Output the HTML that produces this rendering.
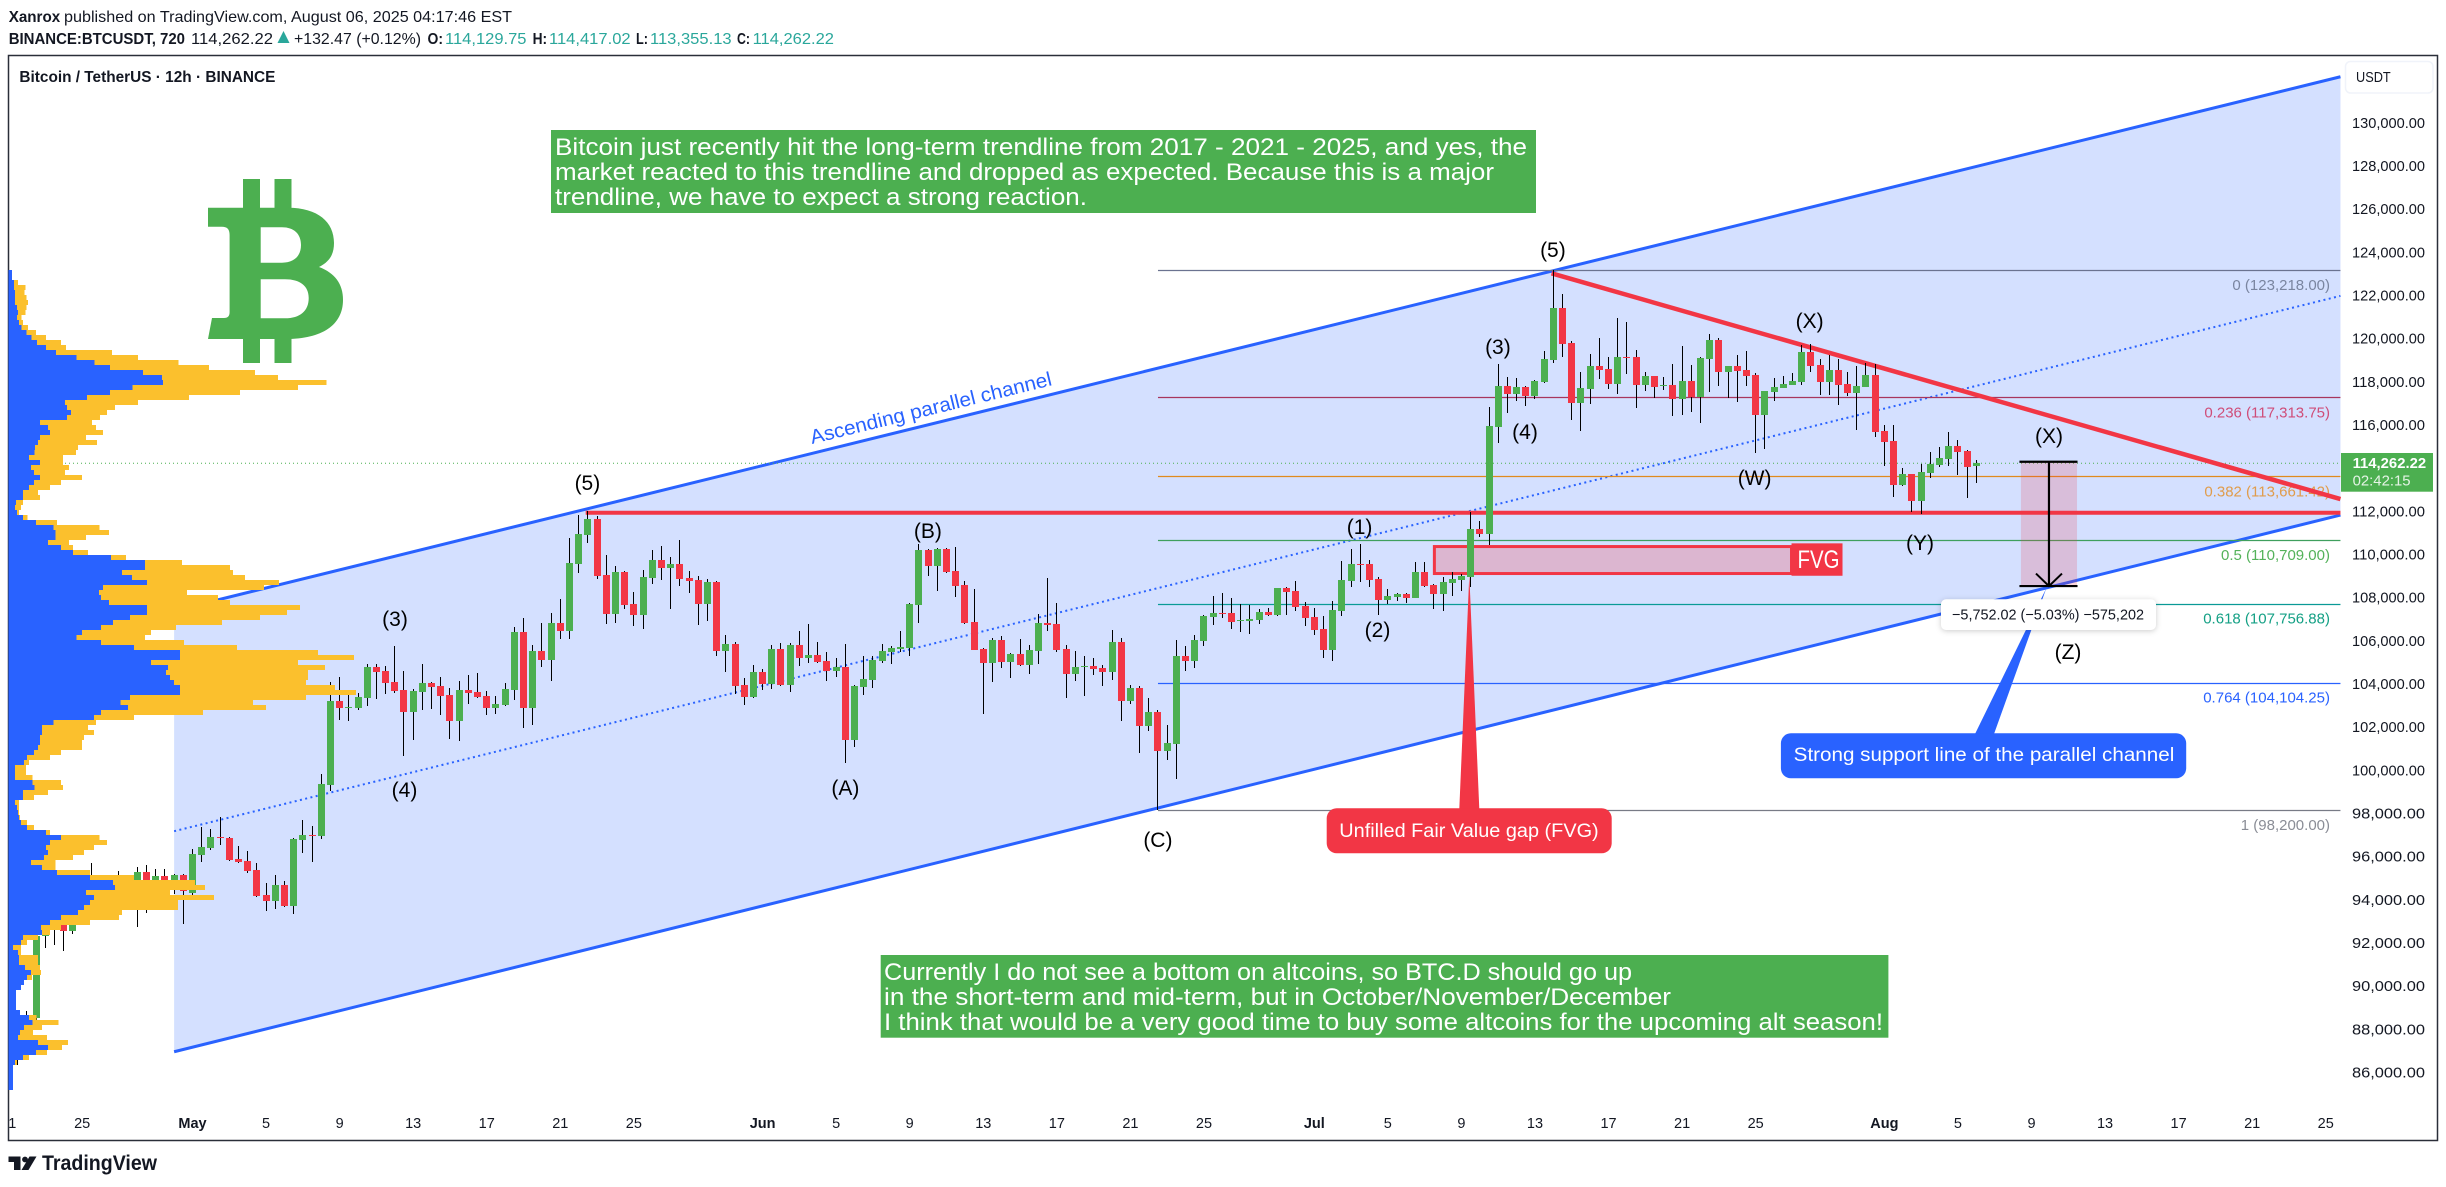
<!DOCTYPE html>
<html lang="en">
<head>
<meta charset="utf-8">
<title>BTCUSDT 12h chart</title>
<style>
html,body{margin:0;padding:0;background:#fff;overflow:hidden}
svg{display:block}
text{font-family:"Liberation Sans",sans-serif;fill:#131722}
.wave{font-size:21px;text-anchor:middle;fill:#000}
.hdr{font-size:16px}
.b{font-weight:bold}
.teal{fill:#2aa79b}
.note{font-size:24px;fill:#fff}
</style>
</head>
<body>
<svg id="chart" xmlns="http://www.w3.org/2000/svg" width="2446" height="1187" viewBox="0 0 2446 1187">
<rect x="0" y="0" width="2446" height="1187" fill="#fff"/>

<g>
<text class="hdr b" x="8.7" y="22" textLength="51.5" lengthAdjust="spacingAndGlyphs">Xanrox</text>
<text class="hdr" x="64" y="22" textLength="448" lengthAdjust="spacingAndGlyphs">published on TradingView.com, August 06, 2025 04:17:46 EST</text>
<text class="hdr b" x="8.7" y="44" textLength="176.3" lengthAdjust="spacingAndGlyphs">BINANCE:BTCUSDT, 720</text>
<text class="hdr" x="191" y="44" textLength="82" lengthAdjust="spacingAndGlyphs">114,262.22</text>
<polygon points="283.5,31 289.5,43 277.5,43" fill="#2aa79b"/>
<text class="hdr" x="294" y="44" textLength="127" lengthAdjust="spacingAndGlyphs">+132.47 (+0.12%)</text>
<text class="hdr b" x="427.5" y="44" textLength="15.5" lengthAdjust="spacingAndGlyphs">O:</text>
<text class="hdr teal" x="445" y="44" textLength="81.5" lengthAdjust="spacingAndGlyphs">114,129.75</text>
<text class="hdr b" x="532.6" y="44" textLength="14.5" lengthAdjust="spacingAndGlyphs">H:</text>
<text class="hdr teal" x="549" y="44" textLength="81.6" lengthAdjust="spacingAndGlyphs">114,417.02</text>
<text class="hdr b" x="636" y="44" textLength="12" lengthAdjust="spacingAndGlyphs">L:</text>
<text class="hdr teal" x="650" y="44" textLength="81.6" lengthAdjust="spacingAndGlyphs">113,355.13</text>
<text class="hdr b" x="737" y="44" textLength="13" lengthAdjust="spacingAndGlyphs">C:</text>
<text class="hdr teal" x="752.6" y="44" textLength="81.4" lengthAdjust="spacingAndGlyphs">114,262.22</text>
</g>

<rect x="8.5" y="55.5" width="2429" height="1085" fill="none" stroke="#2a2e39" stroke-width="1.5"/>

<g id="layer-channel"></g>
<g id="layer-fib"></g>
<g id="layer-levels"></g>
<polygon id="fvg-pointer" fill="#f23645" points="1469.3,575 1479.3,809 1459.3,809"/>
<g id="layer-candles" shape-rendering="crispEdges"></g>
<g id="layer-profile" shape-rendering="crispEdges"></g>

<g fill="#4caf50">
<rect x="243" y="179" width="17" height="32"/>
<rect x="274.5" y="179" width="17" height="32"/>
<rect x="243" y="336" width="17" height="27"/>
<rect x="274.5" y="336" width="17" height="27"/>
<path fill-rule="evenodd" d="M208 207.7H288C318 207.7 334 222 334 243C334 255 329 262 319 267C335 273 343 284 343 300C343 325 322 339 286 339H208L212 318H224C228 318 229.6 316 229.6 312V235C229.6 229 227 226.7 222 226.7H208ZM260.7 227.3V262.7H282C294 262.7 301 256 301 245C301 234 294 227.3 282 227.3ZM260.7 279.3V318.3H285C300 318.3 308.7 311 308.7 298C308.7 286 300 279.3 285 279.3Z"/>
</g>

<g>
<rect x="551" y="130" width="985" height="83" fill="#4caf50"/>
<text class="note" x="555" y="155" textLength="972" lengthAdjust="spacingAndGlyphs">Bitcoin just recently hit the long-term trendline from 2017 - 2021 - 2025, and yes, the</text>
<text class="note" x="555" y="180" textLength="939" lengthAdjust="spacingAndGlyphs">market reacted to this trendline and dropped as expected. Because this is a major</text>
<text class="note" x="555" y="205" textLength="532" lengthAdjust="spacingAndGlyphs">trendline, we have to expect a strong reaction.</text>
</g>

<g>
<rect x="880.7" y="955" width="1007.7" height="82.7" fill="#4caf50"/>
<text class="note" x="884" y="980" textLength="748" lengthAdjust="spacingAndGlyphs">Currently I do not see a bottom on altcoins, so BTC.D should go up</text>
<text class="note" x="884" y="1005" textLength="787" lengthAdjust="spacingAndGlyphs">in the short-term and mid-term, but in October/November/December</text>
<text class="note" x="884" y="1030" textLength="999" lengthAdjust="spacingAndGlyphs">I think that would be a very good time to buy some altcoins for the upcoming alt season!</text>
</g>

<text x="0" y="0" transform="translate(812 444) rotate(-13.75)" font-size="20" textLength="248" lengthAdjust="spacingAndGlyphs" style="fill:#2962ff">Ascending parallel channel</text>

<g>
<text class="wave" x="395" y="626">(3)</text>
<text class="wave" x="587.4" y="490">(5)</text>
<text class="wave" x="404.5" y="797">(4)</text>
<text class="wave" x="845.4" y="795">(A)</text>
<text class="wave" x="927.9" y="538">(B)</text>
<text class="wave" x="1157.9" y="847">(C)</text>
<text class="wave" x="1359.6" y="534">(1)</text>
<text class="wave" x="1377.5" y="637">(2)</text>
<text class="wave" x="1497.9" y="354">(3)</text>
<text class="wave" x="1525" y="439">(4)</text>
<text class="wave" x="1552.9" y="257">(5)</text>
<text class="wave" x="1754.6" y="485">(W)</text>
<text class="wave" x="1809.6" y="328">(X)</text>
<text class="wave" x="1920" y="550">(Y)</text>
<text class="wave" x="2049" y="443">(X)</text>
<text class="wave" x="2068" y="659">(Z)</text>
</g>

<g>
<rect x="1326.7" y="808.3" width="285" height="45" rx="10" fill="#f23645"/>
<text x="1339.3" y="837" font-size="19" textLength="259.4" lengthAdjust="spacingAndGlyphs" style="fill:#fff">Unfilled Fair Value gap (FVG)</text>
</g>

<g>
<polygon points="2046.3,588.3 1994,734 1975,734" fill="#2962ff"/>
<rect x="1780.9" y="733.3" width="405.3" height="45" rx="10" fill="#2962ff"/>
<text x="1793.7" y="761" font-size="19" textLength="380.6" lengthAdjust="spacingAndGlyphs" style="fill:#fff">Strong support line of the parallel channel</text>
</g>

<g id="layer-range"></g>

<g>
<rect x="1941" y="599.3" width="215" height="30.7" rx="5" fill="#fff" style="filter:drop-shadow(0 1px 3px rgba(0,0,0,.2))"/>
<text x="1952" y="619.5" font-size="15" textLength="192" lengthAdjust="spacingAndGlyphs">−5,752.02 (−5.03%) −575,202</text>
</g>

<g id="layer-price-axis"></g>
<g id="layer-time-axis"></g>

<g>
<rect x="2341" y="453" width="92" height="38.7" fill="#4caf50"/>
<text x="2352.6" y="468" font-size="15" font-weight="bold" textLength="73.5" lengthAdjust="spacingAndGlyphs" style="fill:#fff">114,262.22</text>
<text x="2352.6" y="485.5" font-size="15" textLength="58" lengthAdjust="spacingAndGlyphs" style="fill:#e4f3e5">02:42:15</text>
</g>

<g>
<rect x="2345.5" y="61.5" width="87.5" height="31.5" rx="5" fill="#fff" stroke="#f0f3fa" stroke-width="1.5"/>
<text x="2356" y="82" font-size="15" textLength="34.7" lengthAdjust="spacingAndGlyphs">USDT</text>
</g>

<text x="19.4" y="82" font-size="16" font-weight="bold" textLength="256" lengthAdjust="spacingAndGlyphs">Bitcoin / TetherUS · 12h · BINANCE</text>

<g>
<path d="M8.5 1156.5H20.5V1170H14V1162H8.5Z" fill="#131722"/>
<circle cx="25" cy="1159.5" r="2.9" fill="#131722"/>
<path d="M29.5 1156.5H36.5L28.5 1170H21.5Z" fill="#131722"/>
<text x="42" y="1170" font-size="21" font-weight="bold" textLength="115" lengthAdjust="spacingAndGlyphs">TradingView</text>
</g>
</svg>

<script>
// ---- candle series (BTCUSDT 12h) ----
const opens=[87000,87200,88578,92361,93400,92871,92593,92948,94200,94700,
94400,94700,94900,94300,95326,94500,95140,94492,95187,94368,
96113,96453,96930,96901,95928,95835,95418,94260,93998,94724,
93766,96808,97040,96993,99360,103251,102926,102926,103390,104825,
104640,104131,103760,102741,103668,104084,103946,103528,102324,103760,
103668,103482,102926,103066,103760,106447,102926,105567,105150,106864,
106493,109597,110940,111681,109086,107280,109225,107743,107234,108948,
109781,109411,109596,108948,108855,107743,108762,105566,105890,103991,
103435,104593,104038,105659,103991,105844,105242,105381,105103,104640,
104825,101444,103899,104222,105103,105520,105659,105705,107697,110245,
109504,110291,109272,108624,106910,105659,105011,106076,105057,105427,
104918,105567,106863,106817,105659,104501,104825,104872,104779,104594,
105983,103250,103853,102092,102741,100934,101259,105335,105103,106030,
107141,107327,107327,106956,106956,107003,107373,107234,108485,108346,
107651,107141,106586,105613,107419,108809,109596,109596,108902,107929,
108068,108207,108022,109226,108624,108205,108715,108854,108996,111220,
110988,115944,117843,117473,117797,117380,118029,119048,121456,119835,
117056,117704,118770,118631,117936,119187,119187,117890,118306,117843,
117890,117241,118075,117318,119094,119974,118492,118770,118584,118353,
116500,117565,117751,117890,118029,119418,118816,118029,118584,117936,
117519,117797,118353,115759,115296,113258,113767,112517,113814,114184,
114462,115064,114831,114129.75];
const highs=[87700,88887,92500,93800,94500,93500,93800,94700,95727,95000,
95000,95372,95100,95542,95635,95449,95449,95218,95250,96376,
97395,97317,97858,96947,96530,96298,95743,94816,95187,94909,
96901,97734,97456,99870,104131,104362,103714,103606,104965,104965,
104872,105798,104640,103806,104965,104131,104362,103853,104177,104455,
104548,103714,103482,104084,106678,107095,105845,106864,107327,107975,
110801,111866,112052,111820,110013,109503,109272,108299,109318,110244,
110430,109920,110708,109272,109040,108901,108808,106307,105983,104315,
104918,104732,105844,105937,105937,106492,106817,105983,105520,105242,
105890,103991,105334,105334,105890,105798,106493,107790,110523,110300,
110337,110350,110384,108809,108438,105705,106169,106261,105474,106122,
105844,107280,108948,107790,105844,105566,105335,105242,104918,106539,
106169,103991,103945,103389,102834,102139,106076,105798,106308,107234,
108114,108253,108021,107744,107697,107512,107558,108500,108531,108809,
107836,107558,107188,107882,109735,110291,110523,109782,108994,108438,
108253,108253,109689,109689,108670,108993,109224,109131,112007,111590,
116871,118862,118260,118214,117843,118100,119465,123201,122105,119928,
118492,119326,120067,119187,120993,120808,119511,118492,118320,118260,
118862,119696,118816,119187,120252,120067,118780,119279,119465,118446,
117620,118214,118307,118446,119742,119789,119094,119279,119094,118492,
118770,118909,118862,116037,116037,114045,113780,114230,114786,115018,
115713,115342,114878,114417.02];
const lows=[86386,87000,88400,91800,91944,91682,92454,92871,93800,94000,
93900,94000,93800,92794,93442,94100,94000,94300,92917,94200,
95804,96345,96576,95851,95758,95279,94183,93535,93612,93720,
93380,96206,95804,96854,99082,102371,102324,102834,103019,103343,
103575,103621,100703,101444,102834,102880,102602,101491,101398,103112,
103390,102602,102648,103000,103297,102000,102139,104825,104177,106122,
106122,109180,110569,108902,106817,106863,107512,106724,106585,108670,
108855,107512,108577,108253,106770,106956,105334,104593,103574,103065,
103400,103760,103806,103945,103667,104871,105010,105000,104177,104362,
100378,101119,103528,103852,105000,104964,105520,105335,106863,109040,
108346,109179,108068,106820,105590,102648,104131,104779,104316,104872,
104501,104964,106493,105520,103390,104177,103482,104455,103945,104223,
102324,103112,100842,101861,98202,100518,99637,104640,104779,105798,
106771,107095,106586,106447,106354,106817,107200,107200,107234,107419,
106724,106308,105242,105103,107188,108531,108762,108531,107234,107744,
107882,107790,108000,108540,107510,107418,108112,108344,108514,110849,
110478,115203,116593,117148,116917,117241,117982,118909,119187,116268,
115759,117010,118168,117704,117473,118399,116824,117612,117287,117658,
116454,116500,116639,116130,117565,117843,117287,117102,117843,114740,
114925,117148,117740,117880,117890,118492,117426,117426,116963,117380,
115805,117780,115481,114138,112702,113211,112007,111914,113582,114091,
114138,113721,112654,113355.13];
const closes=[87200,88500,92361,93400,92900,92593,92948,94200,94700,94400,
94700,94900,94300,95326,94500,95140,94400,95187,94461,96160,
96484,96947,96890,95897,95789,95372,94230,93998,94724,93751,
96854,97040,97000,99406,103251,102926,102973,103436,104825,104594,
104084,103714,102741,103714,104084,103899,103482,102324,103760,103621,
103436,102926,103112,103806,106447,102926,105567,105150,106864,106493,
109643,110986,111681,109041,107280,109225,107697,107234,108994,109781,
109411,109596,108901,108809,107743,108762,105566,105890,103945,103435,
104593,104038,105659,103991,105844,105242,105381,105057,104640,104825,
101444,103945,104269,105149,105566,105705,105752,107744,110245,109504,
110291,109226,108577,106863,105613,105011,106076,105057,105427,104918,
105613,106863,106771,105613,104501,104825,104872,104733,104594,105983,
103250,103853,102092,102741,100934,101305,105335,105103,106076,107188,
107327,107280,106910,107003,107049,107373,107234,108485,108299,107605,
107095,106539,105613,107466,108855,109596,109550,108855,107929,108114,
108207,108022,109226,108577,108207,108761,108900,109039,111220,110988,
115990,117843,117473,117797,117380,118075,119094,121456,119789,117056,
117751,118770,118584,117936,119187,119140,117890,118306,117797,117890,
117241,118075,117318,119140,119974,118492,118770,118538,118306,116500,
117612,117797,117936,118075,119418,118770,118029,118584,117890,117519,
117843,118353,115713,115249,113258,113767,112517,113860,114230,114508,
115064,114786,114090,114262.22];

// ---- volume profile rows, top price bin downward ----
const profileTopPrice=123216;
const profileBinSize=231.65;
const buyVolume=[3.5,3.5,5.5,5.5,6.5,6.5,6.5,8.5,9.5,8.5,10.5,13,18,23,28.5,37.5,47.5,68,86,101.5,134.5,153.5,154.5,124,101.5,78.5,
56.5,58.5,62.5,58.5,31.5,39.5,41.5,31.5,29.5,26.5,26,20.5,31.5,22.5,25.5,31.5,25.5,20.5,14.5,14.5,7.5,6.5,8.5,14.5,27.5,45,47,47,39.5,52.5,64.5,102.5,136.5,136.5,113.5,123.5,138.5,94.5,90.5,92.5,100.5,138.5,138.5,121.5,104.5,92.5,73.5,68,92.5,125.5,171.5,171.5,142.5,159.5,157.5,161.5,165.5,171.5,171.5,121.5,112,119.5,92.5,85.5,45,33.5,33.5,31.5,31.5,29.5,25.5,18.5,15.5,6.5,6.5,6.5,24,26,14.5,14.5,
6.5,8.5,9.5,10.5,12.5,18.5,37.5,52.5,41.5,37.5,39.5,35.5,22.5,33.5,48.5,81.5,104.5,106.5,77.5,85.5,81.5,75.5,69.5,52.5,41.5,32.5,33.5,14.5,12.5,4.5,9.5,10.5,10.5,16.5,22.5,18.5,15.5,12.5,7.5,7.5,7.5,7.5,11.5,20.5,24,15.5,11.5,9.5,29.5,39.5,27.5,14.5,6.5,4.5,4.5,4.5,4.5,4.5];
const sellVolume=[0,0,4,11.5,9.5,11.5,13,9.5,7.5,4.5,4,6.5,9.5,14.5,24,20,56,61.5,84,99,112,116,163.5,165.5,130,102,
73,48,36,33,52,48,53,46,59,43,41.5,34,23,38,31,42,27,21,15,17,7,6,2,4.5,21,46,53.5,30.5,21,12,15,15,37,85,111,113,132,161,88,117,121,153,140,130,109,75,69,68.5,83,103,138,174,147,157,142,138,132,155,176,176,132.5,138,102,40,42.5,46,52,44,42,44,27,23,5,11,11,17.5,28.5,28.5,25,11,
4,2,1,1,6,7,4,38.5,57,48,36,29,24.5,13.5,33,44,82,90,84,120,88,94,44,58,40,20,8,15,6,8,3,19,19,15,10,5,0,0,0,0,0,0,0,7.5,26,18,13,29,30,14,11,6,2,0,0,0,0];

// ---- axis tick values ----
const priceTicks=[130000,128000,126000,124000,122000,120000,118000,116000,114000,112000,110000,108000,106000,104000,102000,100000,98000,96000,94000,92000,90000,88000,86000];
const tickDays=[-9.8,-6,0,4,8,12,16,20,24,31,35,39,43,47,51,55,61,65,69,73,77,81,85,92,96,100,104,108,112,116];
const tickLabels=['1','25','May','5','9','13','17','21','25','Jun','5','9','13','17','21','25','Jul','5','9','13','17','21','25','Aug','5','9','13','17','21','25'];
const monthTicks=['May','Jun','Jul','Aug'];

// ---- fibonacci retracement ----
const fibLevels=['0','0.236','0.382','0.5','0.618','0.764','1'];
const fibPrices=[123218,117313.75,113661.42,110709,107756.88,104104.25,98200];
const fibLineColors=['#6b7390','#a8365e','#e08a1e','#3f9f5e','#0a9a96','#2962ff','#787b86'];
const fibTextColors=['#7a85a0','#cf4d79','#e09c4c','#54b25a','#14a085','#2962ff','#8a8d96'];
const fibStartIndex=124;
const fibEndIndex=252.6;

// ---- drawing anchors, candle index and price ----
const channelIndex=[17,252.6];
const channelUpper=[107436,132171];
const channelLower=[87000,111865];
const supportIndex=[61.76,252.6];
const supportPrice=[111972,111972];
const downtrendIndex=[166.8,252.6];
const downtrendPrice=[123063,112606];
const fvgIndex=[154.06,192.9];
const fvgPrice=[110405,109155];
const rangeIndex=[217.85,223.95];
const rangePrice=[114334,108575];
const lastPrice=114262.22;

// ---- axis functions ----
const xOf=k=>17.8+9.195*k;
const dayX=d=>192.5+18.39*d;
const yOf=p=>810-(p-98200)*0.021585;
const volX=v=>8.5+v;

const NS='http://www.w3.org/2000/svg';
function mk(tag,attrs,parent){
  const n=document.createElementNS(NS,tag);
  for(const a in attrs)n.setAttribute(a,attrs[a]);
  parent.appendChild(n);
  return n;
}
const $=id=>document.getElementById(id);
const fmt=v=>v.toLocaleString('en-US',{minimumFractionDigits:2,maximumFractionDigits:2});

// channel
(function(){
  const g=$('layer-channel');
  const x0=xOf(channelIndex[0]),x1=xOf(channelIndex[1]);
  const pts=[[x0,yOf(channelUpper[0])],[x1,yOf(channelUpper[1])],[x1,yOf(channelLower[1])],[x0,yOf(channelLower[0])]];
  const fill=mk('polygon',{points:pts.map(p=>p.join(',')).join(' '),fill:'#d4e0ff'},g);
  
  
  const up=mk('line',{x1:x0,x2:x1,y1:yOf(channelUpper[0]),y2:yOf(channelUpper[1]),stroke:'#2962ff','stroke-width':3},g);
  
  
  const lo=mk('line',{x1:x0,x2:x1,y1:yOf(channelLower[0]),y2:yOf(channelLower[1]),stroke:'#2962ff','stroke-width':3},g);
  
  
  const mid=mk('line',{x1:x0,x2:x1,y1:yOf((channelUpper[0]+channelLower[0])/2),y2:yOf((channelUpper[1]+channelLower[1])/2),stroke:'#2962ff','stroke-width':2,'stroke-dasharray':'2 3.4'},g);
  
  
})();

// fibonacci lines and labels
fibPrices.forEach(function(p,i){
  const g=$('layer-fib');
  const line=mk('line',{x1:xOf(fibStartIndex),x2:xOf(fibEndIndex),y1:Math.round(yOf(p))+0.5,y2:Math.round(yOf(p))+0.5,stroke:fibLineColors[i],'stroke-width':1.2},g);
  
  
  const t=mk('text',{x:2330,y:yOf(p)+20,'font-size':15,'text-anchor':'end',style:'fill:'+fibTextColors[i]},g);
  t.textContent=fibLevels[i]+' ('+fmt(p)+')';
  
  
});

// level drawings under candles
(function(){
  const g=$('layer-levels');
  const dot=mk('line',{x1:9,x2:xOf(252.6),y1:yOf(lastPrice),y2:yOf(lastPrice),stroke:'#4caf50','stroke-width':1,'stroke-dasharray':'1 3'},g);
  
  
  const hl=mk('line',{x1:xOf(supportIndex[0]),x2:xOf(supportIndex[1]),y1:yOf(supportPrice[0]),y2:yOf(supportPrice[1]),stroke:'#f23645','stroke-width':4},g);
  
  
  const dl=mk('line',{x1:xOf(downtrendIndex[0]),x2:xOf(downtrendIndex[1]),y1:yOf(downtrendPrice[0]),y2:yOf(downtrendPrice[1]),stroke:'#f23645','stroke-width':4.5},g);
  
  
  const fx=xOf(fvgIndex[0]),fy=yOf(fvgPrice[0]);
  const fr=mk('rect',{x:fx,y:fy,width:xOf(fvgIndex[1])-fx,height:yOf(fvgPrice[1])-fy,fill:'rgba(242,54,69,.25)',stroke:'#f23645','stroke-width':3},g);
  
  
  const tagBox=mk('rect',{x:xOf(fvgIndex[1]),y:fy-3.2,width:51,height:32.4,fill:'#f23645'},g);
  
  
  const tag=mk('text',{x:xOf(fvgIndex[1])+6,y:fy+21.5,'font-size':25,textLength:42,lengthAdjust:'spacingAndGlyphs',style:'fill:#fff'},g);
  tag.textContent='FVG';
  
  
})();

// candles
opens.forEach(function(o,k){
  const g=$('layer-candles');
  const c=closes[k];
  const color=c>=o?'#4caf50':'#f23645';
  const bx=Math.round(xOf(k)-3.5);
  const wt=Math.round(yOf(highs[k]));
  const wb=Math.round(yOf(lows[k]));
  const w=mk('rect',{x:bx+3,y:wt,width:1,height:Math.max(1,wb-wt),fill:'#000'},g);
  
  
  const top=Math.round(yOf(Math.max(o,c)));
  const bot=Math.round(yOf(Math.min(o,c)));
  const b=mk('rect',{x:bx,y:top,width:7,height:Math.max(1,bot-top),fill:color},g);
  
  
});

// volume profile
buyVolume.forEach(function(v,i){
  const g=$('layer-profile');
  const y0=Math.round(yOf(profileTopPrice-i*profileBinSize));
  const y1=Math.round(yOf(profileTopPrice-(i+1)*profileBinSize));
  const b=mk('rect',{x:volX(0),y:y0,width:volX(v)-volX(0),height:y1-y0,fill:'#2962ff'},g);
  
  
  if(sellVolume[i]>0){
    const s=mk('rect',{x:volX(v),y:y0,width:sellVolume[i],height:y1-y0,fill:'#fbc02d'},g);
    
    
  }
});

// price range measure
(function(){
  const g=$('layer-range');
  const x0=xOf(rangeIndex[0]),x1=xOf(rangeIndex[1]);
  const y0=yOf(rangePrice[0]),y1=yOf(rangePrice[1]);
  const xm=(x0+x1)/2;
  const box=mk('rect',{x:x0,y:y0,width:x1-x0,height:y1-y0,fill:'rgba(242,54,69,.2)'},g);
  
  
  const top=mk('line',{x1:x0-1.5,x2:x1+0.5,y1:y0,y2:y0,stroke:'#000','stroke-width':2.2},g);
  
  
  const bot=mk('line',{x1:x0-1.5,x2:x1+0.5,y1:y1,y2:y1,stroke:'#000','stroke-width':2.2},g);
  
  
  const v=mk('line',{x1:xm,x2:xm,y1:y0,y2:y1,stroke:'#000','stroke-width':2.2},g);
  
  
  const head=mk('polyline',{points:(xm-13)+','+(y1-12.5)+' '+xm+','+y1+' '+(xm+13)+','+(y1-12.5),fill:'none',stroke:'#000','stroke-width':2},g);
  
  
})();

// price axis
priceTicks.forEach(function(p){
  const g=$('layer-price-axis');
  const t=mk('text',{x:2352,y:yOf(p)+4.2,'font-size':15,textLength:73,lengthAdjust:'spacingAndGlyphs'},g);
  t.textContent=fmt(p);
  
  
});

// time axis
tickDays.forEach(function(d,i){
  const g=$('layer-time-axis');
  const bold=monthTicks.indexOf(tickLabels[i])>=0;
  const t=mk('text',{x:dayX(d),y:1128,'font-size':14.5,'text-anchor':'middle','font-weight':bold?'bold':'normal'},g);
  t.textContent=tickLabels[i];
  
  
});
</script>
</body>
</html>
